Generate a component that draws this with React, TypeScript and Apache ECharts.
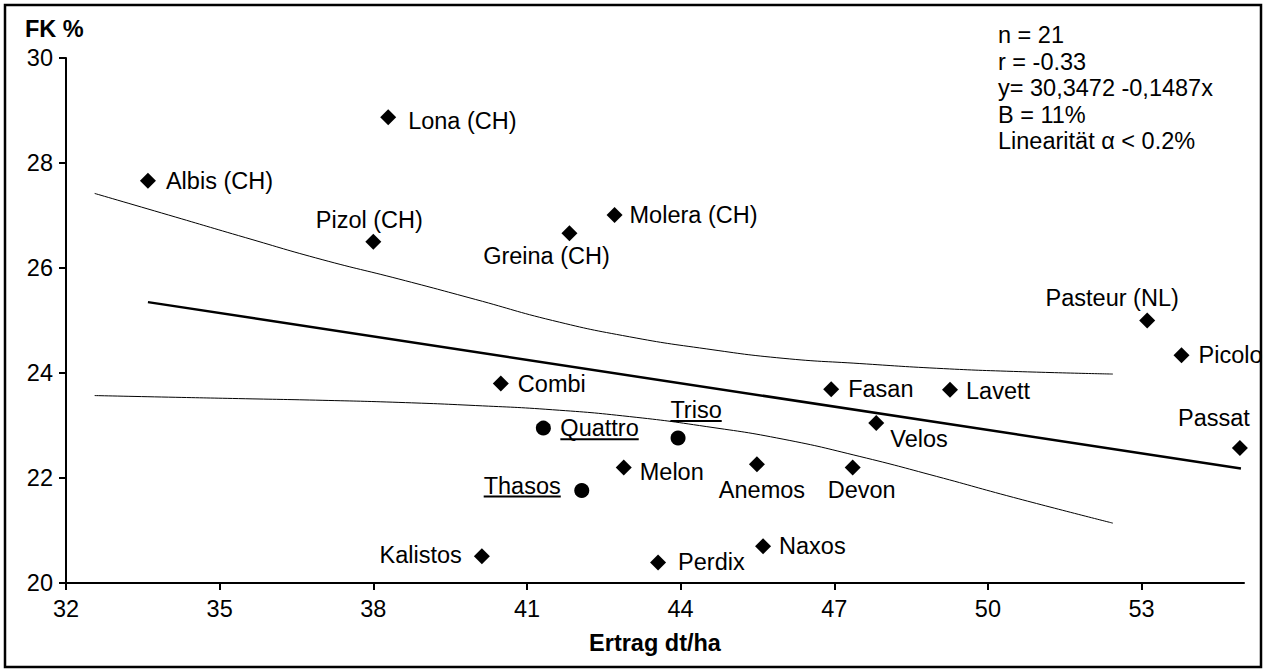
import React, { useEffect, useRef } from "react";
import * as echarts from "echarts";

// ---- data ----
const varieties = ["Lona (CH)", "Albis (CH)", "Pizol (CH)", "Molera (CH)", "Greina (CH)", "Pasteur (NL)", "Picolo", "Lavett", "Fasan", "Velos", "Passat", "Devon", "Combi", "Melon", "Anemos", "Kalistos", "Perdix", "Naxos"];
const yieldDt = [38.29, 33.6, 38.0, 42.71, 41.83, 53.11, 53.78, 49.26, 46.94, 47.82, 54.92, 47.36, 40.49, 42.89, 45.49, 40.12, 43.56, 45.61];
const fkPct = [28.87, 27.66, 26.5, 27.01, 26.66, 25.0, 24.34, 23.68, 23.69, 23.05, 22.57, 22.2, 23.8, 22.2, 22.26, 20.51, 20.39, 20.7];

const newVarieties = ["Quattro", "Triso", "Thasos"];
const newYield = [41.32, 43.95, 42.07];
const newFk = [22.95, 22.76, 21.76];

const regressionX = [33.6, 54.94];
const regressionY = [25.35, 22.18];

const upperBandX = [32.56, 34.0, 35.5, 37.0, 38.5, 40.0, 41.5, 43.0, 44.5, 46.0, 47.5, 49.0, 50.5, 52.44];
const upperBandY = [27.42, 27.01, 26.58, 26.16, 25.79, 25.4, 25.0, 24.69, 24.46, 24.28, 24.18, 24.09, 24.03, 23.98];
const lowerBandX = [32.56, 34.0, 35.5, 37.0, 38.5, 40.0, 41.5, 43.0, 44.5, 46.0, 47.5, 49.0, 50.5, 52.44];
const lowerBandY = [23.57, 23.54, 23.51, 23.48, 23.44, 23.38, 23.3, 23.17, 22.98, 22.74, 22.41, 22.03, 21.63, 21.14];

const xTicks = [32, 35, 38, 41, 44, 47, 50, 53];
const yTicks = [20, 22, 24, 26, 28, 30];

const statsLines = ["n = 21", "r = -0.33", "y= 30,3472 -0,1487x", "B = 11%", "Linearität α < 0.2%"];
const xTitle = "Ertrag dt/ha";
const yTitle = "FK %";

// ---- label layout (styles, not data) ----
// [position, distance, offsetX, offsetY]
const labelLayout: [string, number, number, number][] = [
  ["right", 12, 0, 4],
  ["right", 10, 0, 0],
  ["top", 2, -4, 0],
  ["right", 7, 0, 0],
  ["bottom", 3, -23, 0],
  ["top", 3, -35, 0],
  ["right", 9, 0, 0],
  ["right", 8, 0, 1],
  ["right", 9, 0, 0],
  ["right", 6, 0, 16],
  ["top", 10, -26, 0],
  ["bottom", 2, 9, 0],
  ["right", 9, 0, 0],
  ["right", 8, 0, 4],
  ["bottom", 6, 5, 0],
  ["left", 12, 0, -1],
  ["right", 12, 0, -1],
  ["right", 8, 0, 0],
];
// [align, dx, dy] relative to marker centre
const newLabelLayout: [string, number, number][] = [
  ["left", 17, 0],
  ["center", 18, -28],
  ["right", -21, -5],
];

const FONT = "'Liberation Sans', Arial, sans-serif";
const FS = 23.5;

let measureCtx: CanvasRenderingContext2D | null = null;
function measure(t: string): number {
  if (!measureCtx) measureCtx = document.createElement("canvas").getContext("2d");
  if (!measureCtx) return t.length * FS * 0.55;
  measureCtx.font = `${FS}px ${FONT}`;
  return measureCtx.measureText(t).width;
}

export default function App() {
  const ref = useRef<HTMLDivElement>(null);
  useEffect(() => {
    document.body.style.margin = "0";
    const chart = echarts.init(ref.current!, undefined, { renderer: "svg" });
    const scatterData = varieties.map((n, i) => {
      const [pos, dist, ox, oy] = labelLayout[i];
      return {
        name: n,
        value: [yieldDt[i], fkPct[i]],
        label: { position: pos, distance: dist, offset: [ox, oy] },
      };
    });
    const option: any = {
      animation: false,
      backgroundColor: "#fff",
      textStyle: { fontFamily: FONT },
      grid: { left: 66, right: 21, top: 58, bottom: 87, containLabel: false, outerBoundsMode: "none" },
      xAxis: {
        type: "value",
        min: 32,
        max: 55,
        axisLine: { show: true, onZero: false, lineStyle: { color: "#000", width: 2 } },
        axisTick: { show: true, inside: false, length: 7, customValues: xTicks, lineStyle: { color: "#000", width: 2 } },
        axisLabel: { customValues: xTicks, color: "#000", fontSize: FS, fontFamily: FONT, margin: 14 },
        splitLine: { show: false },
        name: xTitle,
        nameLocation: "middle",
        nameGap: 48,
        nameTextStyle: { color: "#000", fontSize: FS, fontWeight: "bold", fontFamily: FONT },
      },
      yAxis: {
        type: "value",
        min: 20,
        max: 30,
        interval: 2,
        axisLine: { show: true, onZero: false, lineStyle: { color: "#000", width: 2 } },
        axisTick: { show: true, inside: false, length: 7, customValues: yTicks, lineStyle: { color: "#000", width: 2 } },
        axisLabel: { customValues: yTicks, color: "#000", fontSize: FS, fontFamily: FONT, margin: 13 },
        splitLine: { show: false },
      },
      graphic: [
        {
          type: "rect",
          shape: { x: 5, y: 5, width: 1256, height: 662 },
          style: { fill: "none", stroke: "#000", lineWidth: 2.5 },
          z: 100,
        },
        {
          type: "text",
          x: 25,
          y: 29,
          style: { text: yTitle, fill: "#000", font: `bold ${FS}px ${FONT}`, verticalAlign: "middle" },
        },
        {
          type: "text",
          x: 998,
          y: 22,
          style: { text: statsLines.join("\n"), fill: "#000", font: `${FS}px ${FONT}`, lineHeight: 26.5 },
        },
      ],
      series: [
        {
          type: "line",
          data: upperBandX.map((x, i) => [x, upperBandY[i]]),
          showSymbol: false,
          smooth: 0.5,
          lineStyle: { color: "#000", width: 1 },
          silent: true,
        },
        {
          type: "line",
          data: lowerBandX.map((x, i) => [x, lowerBandY[i]]),
          showSymbol: false,
          smooth: 0.5,
          lineStyle: { color: "#000", width: 1 },
          silent: true,
        },
        {
          type: "line",
          data: regressionX.map((x, i) => [x, regressionY[i]]),
          showSymbol: false,
          lineStyle: { color: "#000", width: 2.5 },
          silent: true,
        },
        {
          type: "scatter",
          symbol: "diamond",
          symbolSize: 16,
          itemStyle: { color: "#000", opacity: 1 },
          data: scatterData,
          label: { show: true, formatter: "{b}", color: "#000", fontSize: FS, fontFamily: FONT },
          z: 5,
        },
        {
          type: "custom",
          data: newVarieties.map((n, i) => ({ name: n, value: [newYield[i], newFk[i]] })),
          renderItem: (params: any, api: any) => {
            const i = params.dataIndex;
            const name = newVarieties[i];
            const p = api.coord([api.value(0), api.value(1)]);
            const cx = p[0];
            const cy = p[1];
            const [align, dx, dy] = newLabelLayout[i];
            const w = measure(name);
            const tx = cx + dx;
            const ty = cy + dy;
            const x0 = align === "left" ? tx : align === "right" ? tx - w : tx - w / 2;
            return {
              type: "group",
              children: [
                { type: "circle", shape: { cx, cy, r: 7.5 }, style: { fill: "#000" } },
                {
                  type: "text",
                  x: tx,
                  y: ty,
                  style: { text: name, fill: "#000", font: `${FS}px ${FONT}`, align, verticalAlign: "middle" },
                },
                {
                  type: "line",
                  shape: { x1: x0, y1: ty + 11, x2: x0 + w, y2: ty + 11 },
                  style: { stroke: "#000", lineWidth: 2 },
                },
              ],
            };
          },
          z: 5,
        },
      ],
    };
    chart.setOption(option);
    return () => chart.dispose();
  }, []);
  return <div ref={ref} style={{ position: "absolute", left: 0, top: 0, width: 1265, height: 670 }} />;
}
